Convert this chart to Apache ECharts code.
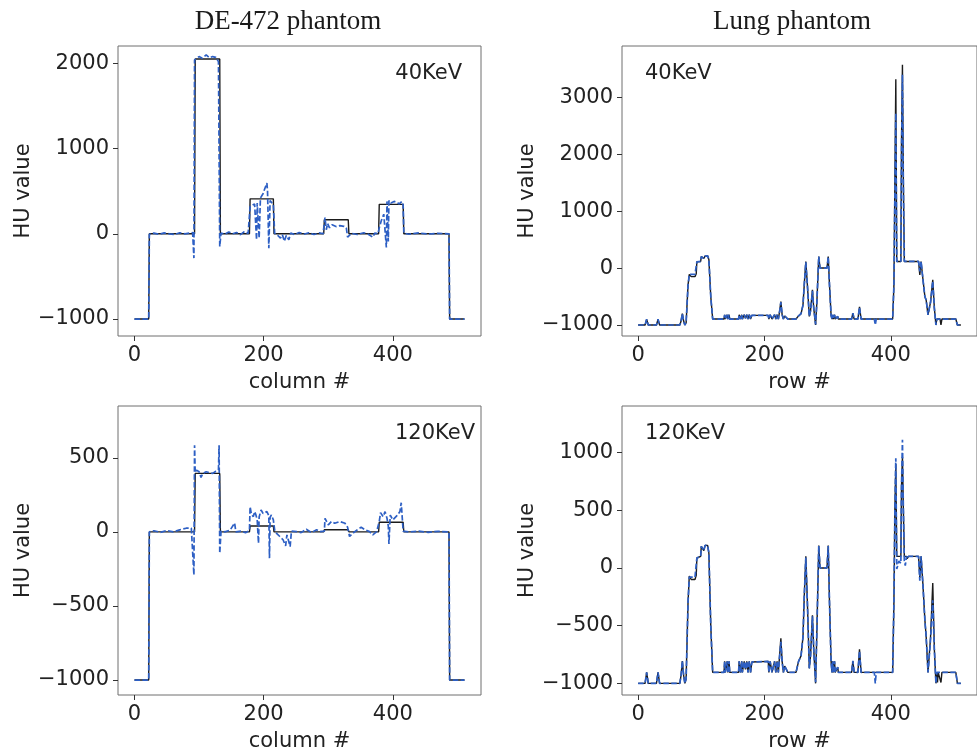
<!DOCTYPE html>
<html>
<head>
<meta charset="utf-8">
<script src="https://cdn.jsdelivr.net/npm/echarts@6/dist/echarts.min.js"></script>
<style>
  html, body { margin: 0; padding: 0; background: #ffffff; }
  #chart { width: 977px; height: 753px; }
</style>
</head>
<body>
<div id="chart"></div>
<script>
// ---- Profiles: [pixel index, HU value] vertices ----

// DE-472 phantom, 40 KeV: reference (solid) and reconstruction (dashed)
const de40Truth = [[0,-1000],[22,-1000],[23,0],[93,0],[94,2050],[132,2050],[133,0],[178,0],[179,410],[215,410],[216,0],[293,0],[294,165],[331,165],[332,0],[378,0],[379,345],[416,345],[417,0],[487,0],[488,-1000],[511,-1000]];
const de40Recon = [[0,-1000],[22,-1000],[23,-5],[30,8],[38,-5],[46,10],[54,0],[62,-8],[70,12],[78,0],[85,8],[90,15],[92,-285],[93,2040],[96,2040],[100,2079],[105,2060],[111,2098],[116,2065],[121,2079],[126,2070],[130,2020],[132,-148],[134,8],[140,-5],[146,20],[152,0],[158,15],[164,-10],[170,25],[176,5],[178,10],[179,320],[182,330],[186,350],[189,-70],[190,360],[193,-50],[195,420],[199,470],[202,535],[205,594],[206,500],[208,-168],[210,390],[215,340],[217,8],[222,-20],[226,-50],[229,-10],[232,-89],[235,-20],[239,-70],[242,10],[248,-10],[255,15],[262,-5],[270,12],[278,-8],[286,10],[292,0],[295,191],[297,47],[299,120],[302,70],[306,106],[312,85],[318,95],[324,88],[328,70],[330,-40],[333,-50],[336,5],[345,-8],[355,12],[362,-5],[369,-40],[372,8],[377,0],[379,70],[382,150],[386,230],[389,250],[390,-160],[391,380],[393,-90],[394,390],[397,360],[402,380],[406,370],[410,350],[414,380],[416,340],[417,8],[425,-5],[440,10],[455,-3],[470,6],[487,0],[488,-1000],[511,-1000]];

// DE-472 phantom, 120 KeV
const de120Truth = [[0,-1000],[22,-1000],[23,0],[93,0],[94,395],[132,395],[133,0],[178,0],[179,40],[215,40],[216,0],[293,0],[294,15],[331,15],[332,0],[378,0],[379,65],[416,65],[417,0],[487,0],[488,-1000],[511,-1000]];
const de120Recon = [[0,-1000],[22,-1000],[23,0],[30,8],[40,-3],[50,10],[60,0],[70,14],[80,25],[88,25],[91,20],[92,-290],[93,585],[94,400],[96,417],[100,406],[103,368],[106,395],[111,406],[116,400],[121,395],[126,410],[130,417],[131,585],[132,-144],[134,5],[140,0],[148,12],[155,60],[157,0],[165,5],[172,-5],[178,10],[179,170],[181,120],[184,103],[186,137],[188,115],[190,81],[192,-76],[193,100],[196,148],[199,125],[202,114],[205,137],[208,110],[209,-177],[210,100],[212,114],[215,81],[217,14],[220,-10],[225,-31],[230,-53],[234,-94],[236,-20],[238,-10],[241,-99],[243,5],[246,18],[251,2],[258,-5],[266,18],[274,-4],[282,14],[287,2],[294,5],[295,92],[300,47],[305,70],[310,58],[318,70],[326,58],[330,31],[333,-31],[338,-9],[346,18],[351,31],[357,14],[364,2],[369,-20],[375,2],[379,70],[381,130],[385,103],[388,137],[391,92],[393,40],[394,-81],[396,114],[400,81],[406,108],[411,137],[413,197],[415,70],[416,5],[425,0],[440,5],[455,-3],[470,4],[487,0],[488,-1000],[511,-1000]];

// Lung phantom, 40 KeV
const lung40Truth = [[0,-1000],[11,-1000],[13.5,-900],[16,-1000],[29,-1000],[31.5,-900],[34,-1000],[66,-1000],[68,-930],[70,-800],[72,-930],[74,-1000],[76,-960],[79,-300],[81,-110],[83,-100],[84,-150],[90,-150],[92,-100],[93,110],[99,116],[100,200],[102,210],[104,170],[106,210],[108,200],[110,215],[112,150],[115,-500],[118,-895],[136,-895],[137,-820],[138,-895],[140,-895],[141,-820],[142,-895],[144,-820],[145,-895],[159,-895],[160,-820],[162,-895],[164,-820],[165,-895],[167,-895],[168,-820],[170,-880],[172,-820],[174,-895],[176,-820],[178,-895],[180,-830],[183,-830],[206,-830],[207,-895],[209,-820],[212,-895],[214,-895],[216,-820],[218,-895],[220,-820],[222,-895],[224,-760],[226,-590],[228,-820],[230,-895],[232,-840],[235,-840],[237,-895],[250,-895],[254,-840],[258,-800],[261,-650],[263,-300],[265.5,116],[268,-300],[271,-850],[273,-750],[276,-380],[278,-700],[281,-1000],[283,-600],[286,204],[288,0],[299,0],[301,204],[303,-300],[305.5,-830],[307,-895],[308,-820],[309,-895],[311,-820],[312,-895],[315,-895],[316,-850],[317,-895],[338,-895],[340,-790],[342,-895],[348,-895],[350.5,-680],[353,-895],[403,-895],[405,-300],[406.5,1500],[408,3316],[409.5,116],[416,116],[417,2200],[418.5,3570],[420,1500],[421.5,116],[425,116],[426,90],[428,116],[444,116],[446,-120],[448,116],[450,116],[451,-200],[454,-500],[456,-560],[459,-822],[461,-822],[463,-600],[466.5,-205],[469,-700],[471.5,-1000],[473,-895],[478,-895],[479.5,-1000],[481,-895],[503,-895],[505.5,-1000],[511,-1000]];
const lung40Recon = [[0,-1000],[11,-1000],[13.5,-900],[16,-1000],[29,-1000],[31.5,-900],[34,-1000],[66,-1000],[68,-930],[70,-800],[72,-930],[74,-1000],[76,-960],[79,-300],[81,-110],[83,-100],[84,-110],[90,-110],[92,-100],[93,110],[99,116],[100,200],[102,210],[104,170],[106,210],[108,200],[110,215],[112,150],[115,-500],[118,-895],[136,-895],[137,-820],[138,-895],[140,-895],[141,-820],[142,-895],[144,-820],[145,-895],[159,-895],[160,-820],[162,-895],[164,-820],[165,-895],[167,-895],[168,-820],[170,-880],[172,-820],[174,-895],[176,-820],[178,-895],[180,-830],[183,-830],[206,-830],[207,-895],[209,-820],[212,-895],[214,-895],[216,-820],[218,-895],[220,-820],[222,-895],[224,-760],[226,-600],[228,-820],[230,-895],[232,-840],[235,-840],[237,-895],[250,-895],[254,-840],[258,-800],[261,-650],[263,-300],[265.5,100],[268,-300],[271,-850],[273,-750],[276,-400],[278,-700],[281,-990],[283,-600],[286,200],[288,0],[299,0],[301,200],[303,-300],[305.5,-830],[307,-895],[308,-820],[309,-895],[311,-820],[312,-895],[315,-895],[316,-850],[317,-895],[338,-895],[340,-790],[342,-895],[348,-895],[350.5,-690],[353,-895],[374,-895],[375.5,-1000],[377,-895],[403,-895],[405,-300],[406.5,1300],[408,2720],[409.5,116],[416,116],[417,2000],[418.5,3400],[420,1400],[421.5,116],[425,116],[426,90],[428,116],[444,116],[446,-60],[448,116],[450,116],[451,-200],[454,-500],[456,-560],[459,-822],[461,-822],[463,-600],[466.5,-230],[469,-700],[471.5,-1000],[473,-895],[503,-895],[505.5,-1000],[511,-1000]];

// Lung phantom, 120 KeV
const lung120Truth = [[0,-1000],[11,-1000],[13.5,-905],[16,-1000],[29,-1000],[31.5,-905],[34,-1000],[66,-1000],[68,-930],[70,-806],[72,-930],[74,-1000],[76,-960],[79,-300],[81,-70],[83,-64],[84,-100],[90,-100],[92,-64],[93,86],[99,100],[100,187],[102,195],[104,150],[106,195],[108,187],[110,195],[112,130],[115,-500],[118,-905],[136,-905],[137,-810],[138,-905],[140,-905],[141,-810],[142,-905],[144,-810],[145,-905],[159,-905],[160,-810],[162,-905],[164,-810],[165,-905],[167,-905],[168,-810],[170,-880],[172,-810],[174,-905],[176,-810],[178,-905],[180,-815],[183,-810],[206,-810],[207,-905],[209,-810],[212,-905],[214,-905],[216,-810],[218,-905],[220,-810],[222,-905],[224,-760],[226,-610],[228,-810],[230,-905],[232,-850],[235,-850],[237,-905],[250,-905],[254,-810],[258,-760],[261,-600],[263,-250],[265.5,100],[268,-300],[271,-870],[273,-760],[276,-410],[278,-700],[281,-1000],[283,-550],[286,195],[288,0],[299,0],[301,195],[303,-300],[305.5,-810],[307,-905],[308,-810],[309,-905],[311,-810],[312,-905],[315,-905],[316,-860],[317,-905],[338,-905],[340,-806],[342,-905],[348,-905],[350.5,-705],[353,-905],[403,-905],[405,-300],[406.5,500],[408,900],[409.5,100],[416,100],[417,700],[418.5,960],[420,500],[421.5,100],[425,100],[426,80],[428,100],[444,100],[446,-86],[448,100],[450,100],[451,-150],[454,-450],[456,-590],[459,-905],[461,-905],[463,-600],[466.5,-130],[469,-700],[471.5,-1000],[473,-905],[474,-993],[475,-905],[478,-905],[479.5,-993],[481,-905],[503,-905],[505.5,-1000],[511,-1000]];
const lung120Recon = [[0,-1000],[11,-1000],[13.5,-905],[16,-1000],[29,-1000],[31.5,-905],[34,-1000],[66,-1000],[68,-930],[70,-806],[72,-930],[74,-1000],[76,-960],[79,-300],[81,-80],[83,-72],[84,-80],[90,-80],[92,-72],[93,86],[99,100],[100,187],[102,195],[104,150],[106,195],[108,187],[110,195],[112,130],[115,-500],[118,-905],[136,-905],[137,-810],[138,-905],[140,-905],[141,-810],[142,-905],[144,-810],[145,-905],[159,-905],[160,-810],[162,-905],[164,-810],[165,-905],[167,-905],[168,-810],[170,-880],[172,-810],[174,-905],[176,-810],[178,-905],[180,-815],[183,-810],[206,-810],[207,-905],[209,-810],[212,-905],[214,-905],[216,-810],[218,-905],[220,-810],[222,-905],[224,-760],[226,-640],[228,-810],[230,-905],[232,-850],[235,-850],[237,-905],[250,-905],[254,-810],[258,-760],[261,-600],[263,-250],[265.5,90],[268,-300],[271,-870],[273,-760],[276,-420],[278,-700],[281,-990],[283,-550],[286,190],[288,0],[299,0],[301,190],[303,-300],[305.5,-810],[307,-905],[308,-810],[309,-905],[311,-810],[312,-905],[315,-905],[316,-860],[317,-905],[338,-905],[340,-806],[342,-905],[348,-905],[350.5,-720],[353,-905],[374,-905],[375.5,-1000],[377,-905],[403,-905],[405,-300],[406.5,500],[408,950],[409.5,-10],[413,60],[416,40],[417,700],[418.5,1110],[420,500],[421.5,60],[423,20],[425,100],[426,80],[428,100],[444,100],[446,-110],[448,100],[450,100],[451,-150],[454,-450],[456,-590],[459,-905],[461,-905],[463,-620],[466.5,-280],[469,-700],[471.5,-1000],[473,-905],[503,-905],[505.5,-1000],[511,-1000]];

// ---- Axis ticks ----
const xTicks = [0, 200, 400];
const yTicksDe40 = [-1000, 0, 1000, 2000];
const yTicksLung40 = [-1000, 0, 1000, 2000, 3000];
const yTicksDe120 = [-1000, -500, 0, 500];
const yTicksLung120 = [-1000, -500, 0, 500, 1000];

const columnTitles = ['DE-472 phantom', 'Lung phantom'];
const energyLabels = ['40KeV', '120KeV'];

// ---- Layout of the 2x2 panels ----
const panels = [
  { grid: { left: 118, top: 46, width: 363, height: 290 }, yMin: -1199, yMax: 2203, yTicks: yTicksDe40,
    xName: 'column #', truth: de40Truth, recon: de40Recon },
  { grid: { left: 622, top: 46, width: 361, height: 290 }, yMin: -1193, yMax: 3900, yTicks: yTicksLung40,
    xName: 'row #', truth: lung40Truth, recon: lung40Recon },
  { grid: { left: 118, top: 406, width: 363, height: 290 }, yMin: -1101, yMax: 850, yTicks: yTicksDe120,
    xName: 'column #', truth: de120Truth, recon: de120Recon },
  { grid: { left: 622, top: 406, width: 361, height: 290 }, yMin: -1101, yMax: 1403, yTicks: yTicksLung120,
    xName: 'row #', truth: lung120Truth, recon: lung120Recon }
];

const sansFont = 'DejaVu Sans';
const textColor = '#222222';
const minusFmt = v => String(v).replace('-', '\u2212');

const grids = [], xAxes = [], yAxes = [], series = [];
panels.forEach((p, i) => {
  grids.push(Object.assign({ show: true, borderColor: '#6e6e6e', borderWidth: 1, backgroundColor: 'transparent' }, p.grid));
  xAxes.push({
    gridIndex: i, type: 'value', min: -25.55, max: 536.55, position: 'bottom',
    axisLine: { show: false, onZero: false }, splitLine: { show: false },
    axisTick: { show: true, length: 5, customValues: xTicks, lineStyle: { color: '#333' } },
    axisLabel: { customValues: xTicks, margin: 9, fontSize: 21, color: textColor, fontFamily: sansFont },
    name: p.xName, nameLocation: 'middle', nameGap: 36,
    nameTextStyle: { fontSize: 21, color: textColor, fontFamily: sansFont }
  });
  yAxes.push({
    gridIndex: i, type: 'value', min: p.yMin, max: p.yMax, position: 'left',
    axisLine: { show: false, onZero: false }, splitLine: { show: false },
    axisTick: { show: true, length: 5, customValues: p.yTicks, lineStyle: { color: '#333' } },
    axisLabel: { customValues: p.yTicks, margin: 9, fontSize: 21, color: textColor, fontFamily: sansFont, formatter: minusFmt },
    name: 'HU value', nameLocation: 'middle', nameGap: 84, nameRotate: 90,
    nameTextStyle: { fontSize: 21, color: textColor, fontFamily: sansFont }
  });
  series.push({
    type: 'line', xAxisIndex: i, yAxisIndex: i, data: p.truth,
    symbol: 'none', clip: true, z: 2,
    lineStyle: { color: '#1b1b1b', width: 1.4 }
  });
  series.push({
    type: 'line', xAxisIndex: i, yAxisIndex: i, data: p.recon,
    symbol: 'none', clip: true, z: 3,
    lineStyle: { color: '#2d5fc4', width: 1.7, type: [5.5, 2.4] }
  });
});

const serifTitle = t => ({ fill: '#1a1a1a', text: t, font: '27px "Liberation Serif"', textAlign: 'center', textVerticalAlign: 'middle' });
const sansNote = (t, align) => ({ fill: textColor, text: t, font: '21px "DejaVu Sans"', textAlign: align, textVerticalAlign: 'middle' });

const chart = echarts.init(document.getElementById('chart'), null, { renderer: 'canvas' });
chart.setOption({
  animation: false,
  backgroundColor: '#ffffff',
  grid: grids,
  xAxis: xAxes,
  yAxis: yAxes,
  series: series,
  graphic: [
    { type: 'text', x: 288, y: 22, style: serifTitle(columnTitles[0]) },
    { type: 'text', x: 792, y: 22, style: serifTitle(columnTitles[1]) },
    { type: 'text', x: 462, y: 74, style: sansNote(energyLabels[0], 'right') },
    { type: 'text', x: 645, y: 74, style: sansNote(energyLabels[0], 'left') },
    { type: 'text', x: 475, y: 434, style: sansNote(energyLabels[1], 'right') },
    { type: 'text', x: 645, y: 434, style: sansNote(energyLabels[1], 'left') }
  ]
});
</script>
</body>
</html>
